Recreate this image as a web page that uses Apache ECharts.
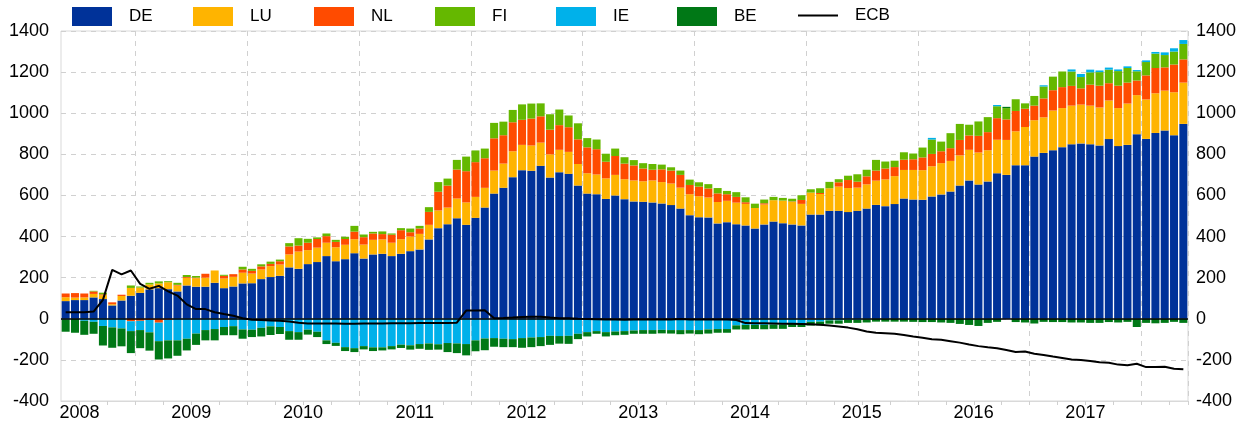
<!DOCTYPE html>
<html>
<head>
<meta charset="utf-8">
<script src="https://cdn.jsdelivr.net/npm/echarts@6/dist/echarts.min.js"></script>
<style>
html,body{margin:0;padding:0;background:#fff;}
#chart{width:1257px;height:429px;}
</style>
</head>
<body>
<div id="chart"></div>
<script>
// Monthly observations: May 2008 .. May 2018
const startYear = 2008, startMonth = 5, monthCount = 121;
const categories = [];
for (let k = 0; k < monthCount; k++) {
  const m = startMonth - 1 + k;
  const y = startYear + Math.floor(m / 12);
  const mm = (m % 12) + 1;
  categories.push(y + '-' + (mm < 10 ? '0' + mm : mm));
}

const DE = [86,91,91,104,96,65,89,112,126,143,149,144,133,162,156,156,175,149,157,172,173,193,203,209,250,243,266,276,305,280,290,
319,293,313,316,305,316,329,337,386,441,460,489,457,491,541,609,637,689,723,720,744,687,713,705,648,609,606,583,600,582,571,
569,566,561,553,536,504,494,493,464,470,460,454,439,459,473,465,459,454,507,507,525,525,519,525,536,554,548,558,585,580,579,
595,605,619,648,673,653,668,708,700,747,747,789,807,820,835,849,853,849,843,874,840,846,898,875,904,916,893,948];

const LU = [19,12,13,17,19,6,22,38,26,24,23,34,29,37,41,44,60,47,47,52,47,47,53,55,63,84,68,70,65,68,70,
68,68,71,70,65,71,71,76,71,86,81,96,109,102,96,112,118,126,123,123,113,113,109,107,105,99,96,100,100,97,102,
100,107,104,105,102,102,102,97,104,104,105,105,100,97,104,110,110,105,107,100,110,118,117,113,118,118,130,136,139,144,144,
147,152,149,147,149,156,152,163,170,165,186,177,173,193,190,188,189,188,185,188,185,201,190,192,193,194,209,201];

const NL = [18,22,19,12,4,9,6,-12,-10,-6,-19,-5,3,4,3,19,0,13,13,16,13,15,11,16,39,29,36,42,32,26,28,
37,36,31,26,39,44,21,26,63,91,107,141,152,169,144,157,138,141,122,131,128,120,120,120,120,126,123,81,92,76,73,
62,52,62,63,62,45,47,44,42,32,28,8,0,6,0,0,2,19,-3,5,0,21,39,29,39,49,53,44,50,52,62,
60,58,62,75,70,81,88,105,100,99,89,71,92,99,102,96,79,102,106,84,109,102,71,117,123,113,135,113];

const FI = [0,0,0,3,8,0,0,12,5,8,10,5,10,10,8,0,0,5,0,13,10,10,11,8,16,36,19,8,13,10,11,
28,13,8,13,6,10,18,13,23,47,34,47,71,57,47,75,66,60,75,73,63,75,76,57,78,45,47,39,36,31,26,
26,28,23,16,21,26,21,21,26,16,23,24,21,18,16,13,13,23,16,23,31,15,21,36,32,52,34,31,36,28,48,
70,47,73,78,52,70,73,58,55,57,26,47,58,66,76,70,55,60,66,66,71,71,45,65,70,60,63,75];

const IE = [-3,0,-10,-15,-35,-42,-47,-48,-45,-60,-90,-100,-105,-97,-72,-55,-50,-40,-36,-52,-53,-44,-37,-40,-60,-65,-53,-63,-105,-117,-138,
-143,-133,-139,-139,-133,-126,-129,-123,-120,-124,-118,-120,-123,-105,-96,-94,-97,-99,-94,-91,-89,-83,-84,-83,-73,-65,-60,-65,-62,-60,-57,
-55,-55,-54,-55,-55,-55,-55,-52,-50,-50,-32,-30,-30,-30,-28,-28,-21,-21,-12,-14,-8,-8,-5,-5,-2,0,0,0,0,0,0,
8,0,0,0,0,0,0,6,0,0,0,0,6,0,0,10,15,13,8,10,8,8,6,8,8,13,16,19];

const BE = [-60,-68,-68,-58,-95,-99,-87,-107,-88,-89,-89,-88,-75,-57,-55,-50,-55,-40,-44,-45,-36,-42,-42,-34,-42,-37,-24,-26,-18,-15,-19,
-19,-16,-18,-15,-16,-16,-21,-23,-31,-26,-44,-47,-55,-53,-57,-42,-41,-39,-47,-47,-44,-44,-37,-39,-26,-21,-13,-21,-18,-18,-16,
-18,-18,-17,-17,-20,-17,-20,-20,-18,-18,-20,-22,-20,-21,-21,-21,-19,-19,-18,-18,-16,-16,-15,-15,-16,-14,-14,-14,-14,-15,-16,
-16,-18,-20,-25,-30,-35,-20,-15,6,-16,-18,-23,-15,-16,-16,-18,-18,-20,-20,-16,-18,-15,-40,-20,-22,-20,-15,-20];

const ECB = [32,32,32,35,92,238,216,235,170,146,160,133,113,70,47,47,32,23,15,3,-5,-6,-8,-10,-13,-19,-23,-23,-23,-23,-24,
-24,-23,-23,-23,-22,-22,-22,-21,-21,-20,-20,-19,40,40,42,3,4,6,9,10,10,6,3,2,0,-1,-2,-3,-4,-5,-3,
-3,-3,-3,-4,-1,-3,-3,-3,-3,-4,-6,-21,-22,-22,-23,-24,-24,-25,-27,-29,-33,-38,-43,-51,-62,-68,-70,-73,-79,-86,-92,
-100,-102,-109,-116,-125,-133,-139,-143,-152,-162,-159,-170,-176,-184,-191,-198,-201,-205,-212,-214,-223,-226,-219,-235,-235,-233,-243,-246];

const legendNames = ['DE','LU','NL','FI','IE','BE','ECB'];
const yTicks = {min: -400, max: 1400, step: 200};

const colors = {DE:'#003299', LU:'#FFB400', NL:'#FF4B00', FI:'#65B800', IE:'#00B1EA', BE:'#007816', ECB:'#000000'};
const FONT = '"Liberation Sans", Arial, Helvetica, sans-serif';

function barSeries(name, data) {
  return {
    name: name, type: 'bar', stack: 'total', data: data,
    barCategoryGap: '14%',
    itemStyle: {color: colors[name]},
    emphasis: {disabled: true},
    animation: false
  };
}

const series = [
  barSeries('DE', DE), barSeries('LU', LU), barSeries('NL', NL),
  barSeries('FI', FI), barSeries('IE', IE), barSeries('BE', BE),
  {
    name: 'ECB', type: 'line', data: ECB, symbol: 'none', showSymbol: false,
    lineStyle: {color: '#000', width: 2}, itemStyle: {color: '#000'},
    z: 5, animation: false,
    markLine: {
      silent: true, symbol: ['none','none'], label: {show: false},
      lineStyle: {color: '#000', width: 1.5, type: 'solid'},
      data: [{yAxis: 0}], animation: false
    }
  }
];

const legends = legendNames.map(function (name, k) {
  return {
    left: 72 + 121 * k, top: 7, padding: 0, itemWidth: 40, itemHeight: 19,
    selectedMode: false,
    textStyle: {fontSize: 17, color: '#000', fontFamily: FONT, padding: [0, 0, 0, 12]},
    data: [name === 'ECB'
      ? {name: name, icon: 'path://M0,0L40,0L40,2L0,2Z', itemStyle: {color: '#000'}}
      : {name: name, icon: 'rect'}]
  };
});

function isLabel(i) {
  return i === 1 || (i >= 13 && (i - 13) % 12 === 0 && i <= 109);
}

const chart = echarts.init(document.getElementById('chart'), null, {renderer: 'canvas'});
chart.setOption({
  animation: false,
  textStyle: {fontFamily: FONT},
  legend: legends,
  grid: {left: 61, right: 69, top: 31, bottom: 28, show: true, borderColor: '#d9d9d9', borderWidth: 1},
  xAxis: {
    type: 'category', data: categories, boundaryGap: true,
    axisLine: {show: true, onZero: false, lineStyle: {color: '#d9d9d9'}},
    axisTick: {show: true, length: 4, lineStyle: {color: '#d0d0d0'},
      interval: function (i) { return i % 3 === 2; }},
    splitLine: {show: true, lineStyle: {color: '#d0d0d0', type: [5, 5]},
      interval: function (i) { return i % 12 === 8; }},
    axisLabel: {
      interval: function (i) { return isLabel(i); },
      formatter: function (v) { return v.slice(0, 4); },
      fontSize: 18, color: '#000', fontFamily: FONT, margin: 3,
      padding: [0, 0, 0, 9]
    }
  },
  yAxis: [
    {type: 'value', min: yTicks.min, max: yTicks.max, interval: yTicks.step, position: 'left',
      axisLine: {show: false}, axisTick: {show: false},
      axisLabel: {fontSize: 18, color: '#000', fontFamily: FONT, margin: 12,
        formatter: function (v) { return String(v); }},
      splitLine: {show: true, lineStyle: {color: '#d0d0d0', type: [5, 5]}}},
    {type: 'value', min: yTicks.min, max: yTicks.max, interval: yTicks.step, position: 'right',
      axisLine: {show: false}, axisTick: {show: false},
      axisLabel: {fontSize: 18, color: '#000', fontFamily: FONT, margin: 8,
        formatter: function (v) { return String(v); }},
      splitLine: {show: false}}
  ],
  series: series
});
</script>
</body>
</html>
